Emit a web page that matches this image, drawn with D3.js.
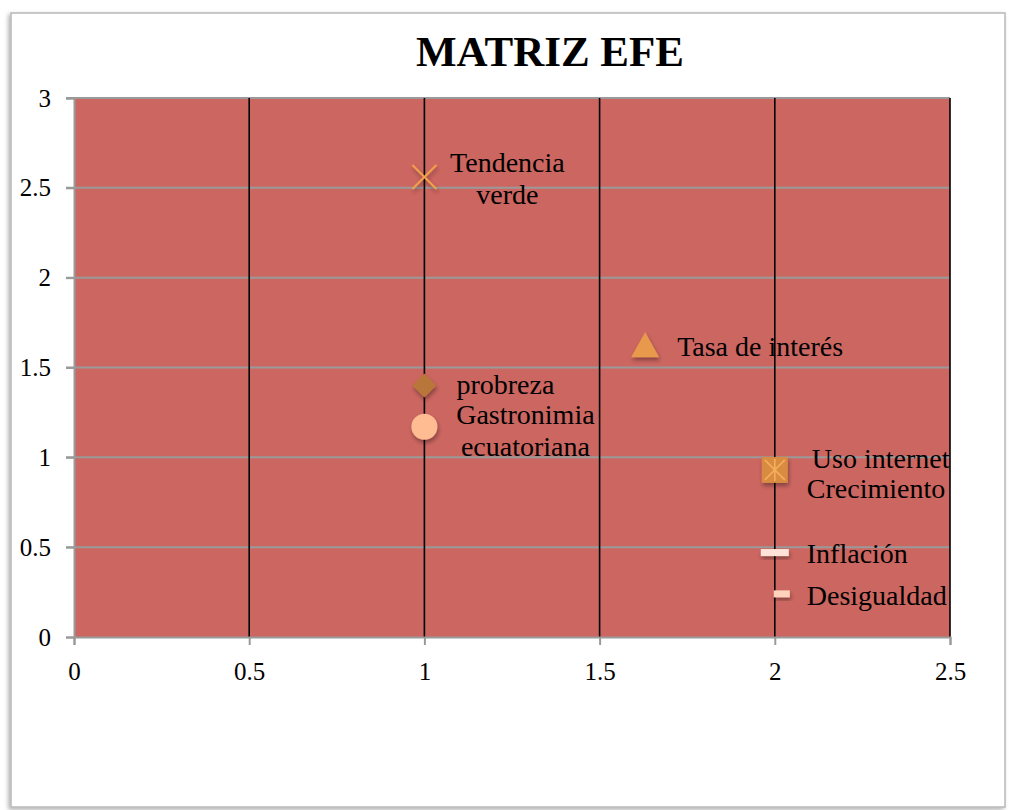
<!DOCTYPE html>
<html><head><meta charset="utf-8">
<script src="https://cdn.jsdelivr.net/npm/d3@7"></script>
<style>
html,body{margin:0;padding:0;background:#fff;}
text{font-family:"Liberation Serif","Times New Roman",serif;}
</style></head>
<body><svg id="c" width="1009" height="810"></svg>
<script>
const title = "MATRIZ EFE";
const names = ["Tendencia verde","probreza","Gastronimia ecuatoriana","Tasa de interés","Uso internet","Crecimiento","Inflación","Desigualdad"];
const xValues = [1, 1, 1, 1.63, 2, 2, 2, 2.02];
const yValues = [2.56, 1.40, 1.17, 1.62, 0.93, 0.93, 0.47, 0.24];
const xTicks = [0, 0.5, 1, 1.5, 2, 2.5];
const yTicks = [0, 0.5, 1, 1.5, 2, 2.5, 3];

// styling per point (not data)
const styles = [
  {shape:"x", color:"#F0A048", size:24, lines:["Tendencia","verde"], dx:83, dy:-5, anchor:"middle"},
  {shape:"diamond", color:"#B9763A", size:24, lines:["probreza"], dx:32, dy:9, anchor:"start"},
  {shape:"circle", color:"#FFBC92", size:26, lines:["Gastronimia","ecuatoriana"], dx:101, dy:-3, anchor:"middle"},
  {shape:"triangle", color:"#E8994B", size:28, lines:["Tasa de interés"], dx:32, dy:10, anchor:"start"},
  {shape:"square", color:"#D98B42", size:26, lines:["Uso internet"], dx:37, dy:-2, anchor:"start"},
  {shape:"star", color:"#F4AE5C", size:26, lines:["Crecimiento"], dx:32, dy:28, anchor:"start"},
  {shape:"dash", color:"#FFE2D8", size:28, lines:["Inflación"], dx:32, dy:10, anchor:"start"},
  {shape:"sdash", color:"#FFD2BE", size:16, lines:["Desigualdad"], dx:25, dy:11, anchor:"start"}
];

const svg = d3.select("#c");
const defs = svg.append("defs");
const sh = defs.append("filter").attr("id","sh").attr("x","-50%").attr("y","-50%").attr("width","200%").attr("height","200%");
sh.append("feDropShadow").attr("dx",1).attr("dy",3).attr("stdDeviation",2).attr("flood-color","#000").attr("flood-opacity",0.35);
const fsh = defs.append("filter").attr("id","fsh").attr("x","-5%").attr("y","-5%").attr("width","110%").attr("height","110%");
fsh.append("feDropShadow").attr("dx",-2).attr("dy",2).attr("stdDeviation",2).attr("flood-color","#000").attr("flood-opacity",0.3);

// frame
svg.append("rect").attr("x",11).attr("y",13).attr("width",994).attr("height",794)
  .attr("fill","#fff").attr("stroke","#b8b8b8").attr("stroke-width",1.5).attr("filter","url(#fsh)");

const L=74, R=950, T=98, B=637;
const x = d3.scaleLinear().domain([0,2.5]).range([L,R]);
const y = d3.scaleLinear().domain([0,3]).range([B,T]);

svg.append("rect").attr("x",L).attr("y",T).attr("width",R-L).attr("height",B-T).attr("fill","#CC6661");

// horizontal gridlines
svg.append("g").selectAll("line").data(yTicks.filter(d=>d>0)).join("line")
  .attr("x1",L-8).attr("x2",R).attr("y1",d=>y(d)).attr("y2",d=>y(d))
  .attr("stroke","#9a9a9a").attr("stroke-width",2);
// vertical gridlines
svg.append("g").selectAll("line").data(xTicks.filter(d=>d>0)).join("line")
  .attr("x1",d=>x(d)).attr("x2",d=>x(d)).attr("y1",T).attr("y2",B)
  .attr("stroke","#000").attr("stroke-width",1.6);

// axes
const yAxis = svg.append("g").attr("transform",`translate(${L},0)`)
  .call(d3.axisLeft(y).tickValues(yTicks).tickSize(8).tickPadding(15).tickFormat(d3.format("")));
const xAxis = svg.append("g").attr("transform",`translate(0,${B})`)
  .call(d3.axisBottom(x).tickValues(xTicks).tickSize(8).tickPadding(17).tickFormat(d3.format("")));
[yAxis,xAxis].forEach(a=>{
  a.attr("font-size",25).attr("font-family","Liberation Serif, serif");
  a.select(".domain").attr("stroke","#9a9a9a").attr("stroke-width",2);
  a.selectAll(".tick line").attr("stroke","#9a9a9a").attr("stroke-width",2);
  a.selectAll(".tick text").attr("fill","#000");
});
xAxis.selectAll(".tick line").filter(d=>d>0).attr("y1",0);

// title
svg.append("text").attr("x",550).attr("y",66).attr("text-anchor","middle")
  .style("font-size","43px").style("font-weight","bold").attr("fill","#000").text(title);

// markers
const pts = names.map((n,i)=>({name:n, x:xValues[i], y:yValues[i], st:styles[i]}));
const mg = svg.append("g");
pts.forEach(p=>{
  const cx=x(p.x), cy=y(p.y), s=p.st.size, h=s/2;
  const g = mg.append("g").attr("transform",`translate(${cx},${cy})`);
  const st=p.st;
  if(st.shape==="x"){
    g.append("path").attr("d",`M${-h},${-h}L${h},${h}M${-h},${h}L${h},${-h}`)
      .attr("stroke",st.color).attr("stroke-width",2).attr("fill","none").attr("filter","url(#sh)");
  } else if(st.shape==="diamond"){
    g.append("path").attr("d",`M0,${-h}L${h},0L0,${h}L${-h},0Z`).attr("fill",st.color).attr("filter","url(#sh)");
  } else if(st.shape==="circle"){
    g.append("circle").attr("r",h).attr("fill",st.color).attr("filter","url(#sh)");
  } else if(st.shape==="triangle"){
    g.append("path").attr("d",`M0,${-h}L${h},${h*0.8}L${-h},${h*0.8}Z`).attr("fill",st.color).attr("filter","url(#sh)");
  } else if(st.shape==="square"){
    g.append("rect").attr("x",-h).attr("y",-h).attr("width",s).attr("height",s).attr("fill",st.color).attr("filter","url(#sh)");
  } else if(st.shape==="star"){
    g.append("path").attr("d",`M${-h+3},${-h+3}L${h-3},${h-3}M${-h+3},${h-3}L${h-3},${-h+3}M0,${-h+2}L0,${h-2}`)
      .attr("stroke",st.color).attr("stroke-width",1.6).attr("fill","none");
  } else {
    g.append("rect").attr("x",-h).attr("y",-3.5).attr("width",s).attr("height",7).attr("fill",st.color).attr("filter","url(#sh)");
  }
});

// labels
const lg = svg.append("g");
pts.forEach(p=>{
  const st=p.st;
  const t = lg.append("text").attr("x",x(p.x)+st.dx).attr("y",y(p.y)+st.dy)
    .attr("text-anchor",st.anchor).style("font-size","28px").attr("fill","#000");
  st.lines.forEach((ln,k)=>{
    t.append("tspan").attr("x",x(p.x)+st.dx).attr("dy",k===0?0:32).text(ln);
  });
});
</script></body></html>
